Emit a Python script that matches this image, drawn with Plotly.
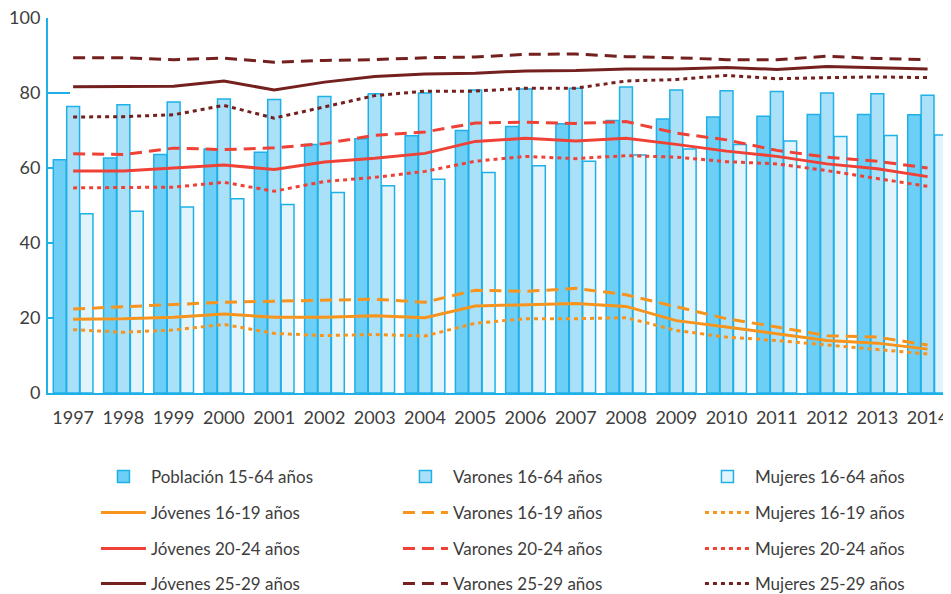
import plotly.graph_objects as go

years = [str(y) for y in range(1997, 2015)]

# Bars (percent)
poblacion_15_64 = [62.2, 62.7, 63.6, 65.1, 64.2, 66.3, 67.8, 68.6, 70.0, 71.1, 71.8, 72.7, 73.1, 73.6, 73.8, 74.3, 74.3, 74.2]
varones_16_64 = [76.4, 76.9, 77.6, 78.4, 78.3, 79.1, 79.8, 80.0, 80.8, 81.1, 81.3, 81.6, 80.8, 80.6, 80.4, 80.0, 79.8, 79.4]
mujeres_16_64 = [47.8, 48.5, 49.6, 51.8, 50.3, 53.5, 55.3, 57.0, 58.8, 60.6, 61.8, 63.5, 65.1, 66.3, 67.2, 68.4, 68.7, 68.8]

# Lines
jovenes_16_19 = [19.7, 19.8, 20.2, 21.1, 20.2, 20.2, 20.6, 20.1, 23.2, 23.5, 23.9, 23.1, 19.3, 17.6, 15.8, 14.0, 13.3, 11.7]
varones_16_19 = [22.4, 23.1, 23.6, 24.2, 24.5, 24.8, 25.0, 24.2, 27.4, 27.1, 27.9, 26.2, 23.1, 19.8, 17.6, 15.3, 14.9, 12.8]
mujeres_16_19 = [16.9, 16.2, 16.8, 18.3, 15.9, 15.3, 15.6, 15.2, 18.6, 19.8, 19.8, 20.1, 16.7, 14.9, 14.0, 12.9, 11.6, 10.4]

jovenes_20_24 = [59.2, 59.2, 60.0, 60.8, 59.6, 61.6, 62.6, 63.9, 67.1, 67.9, 67.2, 67.9, 66.3, 64.5, 63.1, 61.1, 59.8, 57.7]
varones_20_24 = [63.8, 63.6, 65.3, 64.9, 65.4, 66.5, 68.7, 69.6, 72.0, 72.2, 71.9, 72.4, 69.3, 67.5, 64.7, 62.9, 61.8, 60.0]
mujeres_20_24 = [54.7, 54.7, 54.9, 56.2, 53.8, 56.4, 57.5, 59.1, 61.8, 63.1, 62.5, 63.3, 62.9, 61.7, 61.1, 59.3, 57.1, 55.1]

jovenes_25_29 = [81.7, 81.7, 81.8, 83.2, 80.8, 82.9, 84.4, 85.1, 85.3, 85.9, 86.0, 86.4, 86.4, 86.8, 86.3, 87.1, 86.7, 86.4]
varones_25_29 = [89.4, 89.4, 88.9, 89.3, 88.2, 88.7, 88.9, 89.4, 89.6, 90.3, 90.4, 89.7, 89.4, 88.9, 88.9, 89.8, 89.2, 88.9]
mujeres_25_29 = [73.6, 73.7, 74.2, 76.7, 73.3, 76.4, 79.3, 80.5, 80.5, 81.3, 81.3, 83.2, 83.6, 84.7, 83.8, 84.1, 84.3, 84.1]

FONT = "Lato"
TXT = "#3d3d3d"
BLUE = "#1fb0e8"
ORANGE = "#f7941d"
RED = "#ef4136"
MAROON = "#74201f"
DOT = "4px,4px"
DASH = "12px,7px"

fig = go.Figure()

bar_specs = [
    ("Población 15-64 años", poblacion_15_64, "#6dcff6"),
    ("Varones 16-64 años", varones_16_64, "#abe0f9"),
    ("Mujeres 16-64 años", mujeres_16_64, "#e1f4fc"),
]
for name, vals, col in bar_specs:
    fig.add_trace(go.Bar(x=years, y=vals, name=name, marker=dict(color=col, line=dict(color=BLUE, width=1.5)),
                         legend="legend"))

line_rows = [
    [("Jóvenes 16-19 años", jovenes_16_19, ORANGE, "solid"),
     ("Varones 16-19 años", varones_16_19, ORANGE, DASH),
     ("Mujeres 16-19 años", mujeres_16_19, ORANGE, DOT)],
    [("Jóvenes 20-24 años", jovenes_20_24, RED, "solid"),
     ("Varones 20-24 años", varones_20_24, RED, DASH),
     ("Mujeres 20-24 años", mujeres_20_24, RED, DOT)],
    [("Jóvenes 25-29 años", jovenes_25_29, MAROON, "solid"),
     ("Varones 25-29 años", varones_25_29, MAROON, DASH),
     ("Mujeres 25-29 años", mujeres_25_29, MAROON, DOT)],
]
for i, row in enumerate(line_rows):
    for name, vals, col, dash in row:
        fig.add_trace(go.Scatter(x=years, y=vals, name=name, mode="lines",
                                 line=dict(color=col, width=3, dash=dash),
                                 legend="legend%d" % (i + 2)))

# page body adds an 8px offset; figure sized to fill the rest of the window
plot_bottom = 393
plot_h = 375
row_px = [477, 513, 549, 584]
legend_common = dict(orientation="h", xanchor="left", yanchor="middle", x=0.0531,
                     entrywidth=242, entrywidthmode="pixels", itemwidth=45,
                     font=dict(family=FONT, size=17, color=TXT), bgcolor="rgba(0,0,0,0)",
                     itemclick=False, itemdoubleclick=False)
legends = {}
for i, py in enumerate(row_px):
    key = "legend" if i == 0 else "legend%d" % (i + 1)
    legends[key] = dict(legend_common, y=(plot_bottom - py) / plot_h)

fig.update_layout(
    width=943, height=586,
    margin=dict(l=40, r=0, t=10, b=201, autoexpand=False),
    paper_bgcolor="white", plot_bgcolor="white",
    barmode="group", bargap=0.2, bargroupgap=0.04,
    font=dict(family=FONT, size=17, color=TXT),
    showlegend=True,
    xaxis=dict(type="category", range=[-0.5, 17.466], showgrid=False, zeroline=False,
               showline=True, linecolor=BLUE, linewidth=2, ticks="", automargin=False,
               ticklabeloverflow="allow",
               tickfont=dict(family=FONT, size=18, color=TXT), ticklabelstandoff=7),
    yaxis=dict(range=[0, 100], tickvals=[0, 20, 40, 60, 80, 100], showgrid=False, zeroline=False,
               showline=True, linecolor=BLUE, linewidth=2, ticks="inside", ticklen=22,
               tickwidth=2, tickcolor=BLUE, layer="below traces", automargin=False,
               ticklabeloverflow="allow",
               tickfont=dict(family=FONT, size=18, color=TXT), ticklabelstandoff=2),
    **legends,
)

fig.write_html("out.html")
